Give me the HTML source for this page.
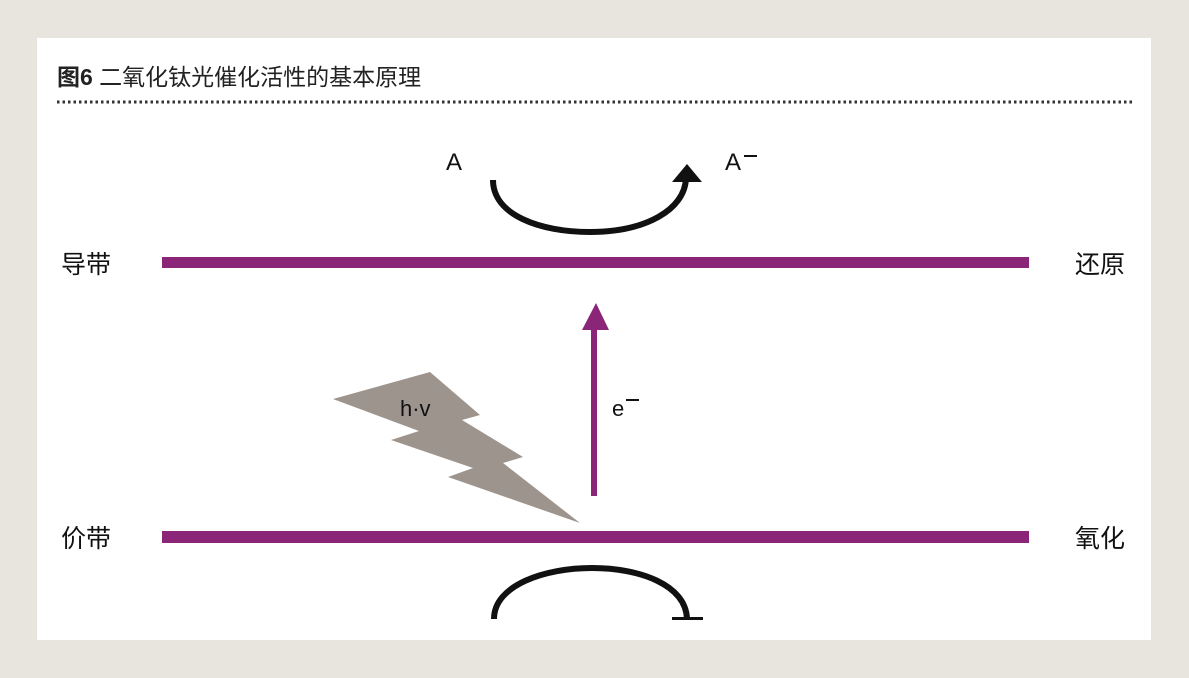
<!DOCTYPE html>
<html><head><meta charset="utf-8"><style>
body{margin:0;width:1189px;height:678px;background:#e8e5de;overflow:hidden;font-family:"Liberation Sans","Noto Sans CJK SC",sans-serif}
</style></head><body>
<svg width="1189" height="678" xmlns="http://www.w3.org/2000/svg" style="position:absolute;left:0;top:0">
<rect x="37" y="38" width="1114" height="602" fill="#fff"/>
<text x="57" y="85" font-size="23" font-family="Liberation Sans,Noto Sans CJK SC,sans-serif" fill="#222"><tspan font-weight="bold">图6</tspan> 二氧化钛光催化活性的基本原理</text>
<line x1="57" y1="102" x2="1133" y2="102" stroke="#333" stroke-width="3" stroke-dasharray="2.5 3"/>
<rect x="162" y="257" width="867" height="11" fill="#8b2578"/>
<rect x="162" y="531" width="867" height="12" fill="#8b2578"/>
<text x="61" y="273" font-size="25" fill="#111" font-family="Noto Sans CJK SC,sans-serif">导带</text>
<text x="61" y="547" font-size="25" fill="#111" font-family="Noto Sans CJK SC,sans-serif">价带</text>
<text x="1075" y="273" font-size="25" fill="#111" font-family="Noto Sans CJK SC,sans-serif">还原</text>
<text x="1075" y="547" font-size="25" fill="#111" font-family="Noto Sans CJK SC,sans-serif">氧化</text>
<text x="446" y="170" font-size="24" fill="#111">A</text>
<text x="725" y="170" font-size="24" fill="#111">A</text>
<rect x="744" y="155" width="13" height="2" fill="#111"/>
<path d="M493 180 C493 215 540 232 590 232 C645 232 685 210 686 178" fill="none" stroke="#111" stroke-width="6"/>
<polygon points="672,182 702,182 687,164" fill="#111"/>
<path d="M494 619 C494 585 545 568 592 568 C640 568 686 585 687 619" fill="none" stroke="#111" stroke-width="6"/>
<rect x="672" y="617" width="31" height="3" fill="#111"/>
<polygon points="333,399 430,372 480,415 462,420 523,457 503,463 580,523 448,477 473,468 391,440 419,431" fill="#9e948e"/>
<text x="400" y="416" font-size="22" fill="#111">h·v</text>
<rect x="591" y="328" width="6" height="168" fill="#8b2578"/>
<polygon points="582,330 609,330 596,303" fill="#8b2578"/>
<text x="612" y="416" font-size="22" fill="#111">e</text>
<rect x="626" y="399" width="13" height="2" fill="#111"/>
</svg>
</body></html>
